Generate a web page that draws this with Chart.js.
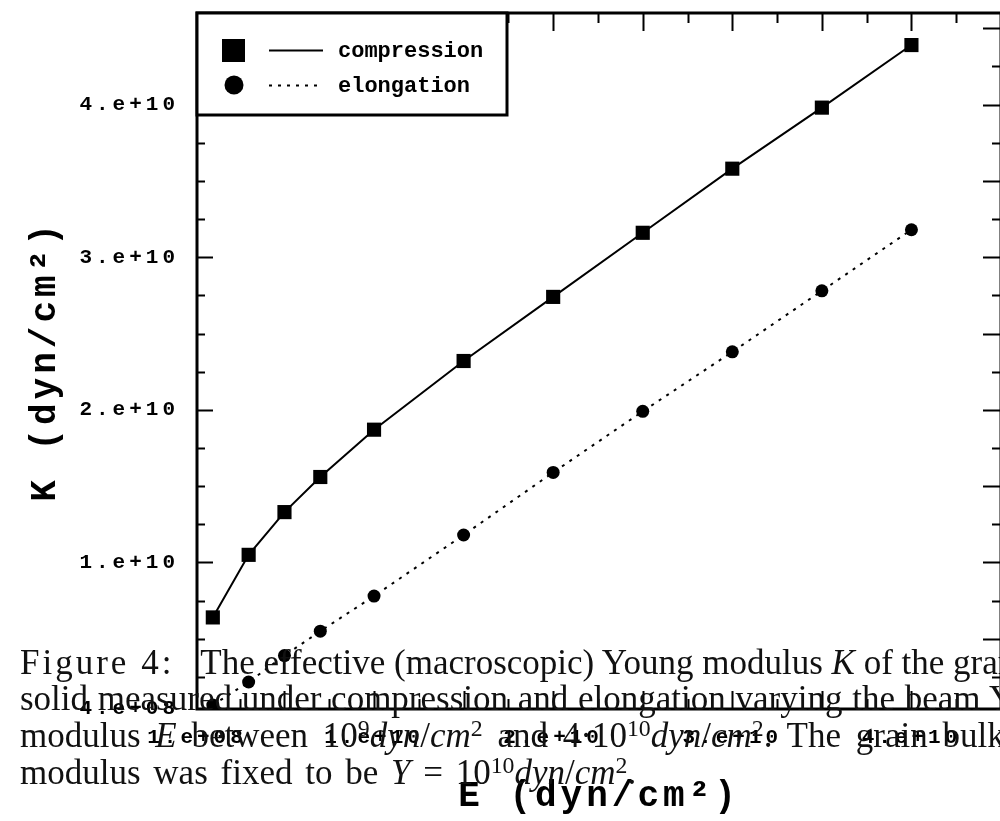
<!DOCTYPE html>
<html>
<head>
<meta charset="utf-8">
<script src="https://cdn.jsdelivr.net/npm/chart.js@4/dist/chart.umd.min.js"></script>
<style>
  html, body { margin: 0; padding: 0; background: #fff; overflow: hidden; }
  #wrap { position: relative; width: 1000px; height: 821px; overflow: hidden; }
  #chart { position: absolute; left: 0; top: 0; }
  #caption { position: absolute; left: 0; top: 0; width: 1000px; height: 821px; pointer-events: none;
             font-family: "Liberation Serif", serif; font-size: 35px; color: #111; }
  #caption div { position: absolute; left: 20px; white-space: nowrap; line-height: 33px; }
  #caption sup { font-size: 0.68em; vertical-align: 0.45em; line-height: 0; }
  .fig { letter-spacing: 3px; }
  .gap { display: inline-block; width: 26px; }
</style>
</head>
<body>
<div id="wrap">
  <canvas id="chart" width="1011" height="821"></canvas>
  <div id="caption">
    <div style="top:646px"><span class="fig">Figure 4:</span><span class="gap"></span>The effective (macroscopic) Young modulus <i>K</i> of the granular</div>
    <div style="top:682px; word-spacing:1px">solid measured under compression and elongation varying the beam Young</div>
    <div style="top:719px; word-spacing:6px">modulus <i>E</i> between 10<sup>9</sup><i>dyn</i>/<i>cm</i><sup>2</sup> and 4·10<sup>10</sup><i>dyn</i>/<i>cm</i><sup>2</sup>. The grain bulk Young</div>
    <div style="top:756px; word-spacing:4px">modulus was fixed to be <i>Y</i> = 10<sup>10</sup><i>dyn</i>/<i>cm</i><sup>2</sup>.</div>
  </div>
</div>
<script>
// beam Young modulus E (dyn/cm^2)
const eValues = [1e9, 3e9, 5e9, 7e9, 1e10, 1.5e10, 2e10, 2.5e10, 3e10, 3.5e10, 4e10];
// effective modulus K (dyn/cm^2)
const compressionK = [6.4e9, 1.05e10, 1.33e10, 1.56e10, 1.87e10, 2.32e10, 2.74e10, 3.16e10, 3.58e10, 3.98e10, 4.39e10];
const elongationK = [6.6e8, 2.17e9, 3.9e9, 5.5e9, 7.8e9, 1.18e10, 1.59e10, 1.99e10, 2.38e10, 2.78e10, 3.18e10];
const seriesNames = ["compression", "elongation"];
const xRange = [1.17e8, 4.5e10];
const yRange = [4e8, 4.6e10];
const tickStep = 2.5e9;

function expLabel(v) {
    let exp = Math.floor(Math.log10(v) + 1e-9);
    let m = Math.round(v / Math.pow(10, exp));
    return m + ".e+" + String(exp).padStart(2, "0");
}

function isMultiple(v, step) {
    let r = v / step;
    return Math.abs(r - Math.round(r)) < 1e-6;
}

function labelFor(scaleMin, scaleMax) {
    return function (value) {
        if (Math.abs(value - scaleMin) < 1) return expLabel(value);
        if (Math.abs(value - scaleMax) < 1) return "";
        return isMultiple(value, 1e10) ? expLabel(value) : "";
    };
}

// ticks at the range ends plus every step in between
function stepTicks(scale) {
    let out = [{ value: scale.min }];
    for (let v = Math.ceil(scale.min / tickStep) * tickStep; v < scale.max - 1; v += tickStep) {
        if (v > scale.min + 1) out.push({ value: v });
    }
    out.push({ value: scale.max });
    scale.ticks = out;
}

// frame, inward ticks and boxed legend (like the old plotting program)
const framePlugin = {
    id: "framePlugin",
    beforeDraw(chart) {
        chart.ctx.letterSpacing = "4px";
    },
    afterDraw(chart) {
        let ctx = chart.ctx;
        let a = chart.chartArea;
        let xs = chart.scales.x, ys = chart.scales.y;
        ctx.save();
        ctx.letterSpacing = "0px";
        ctx.strokeStyle = "#000";
        ctx.lineWidth = 2;

        xs.ticks.forEach(t => {
            if (t.value <= xs.min || t.value >= xs.max) return;
            let px = Math.round(xs.getPixelForValue(t.value)) + 0.5;
            let len = isMultiple(t.value, 5e9) ? 18 : 10;
            ctx.beginPath();
            ctx.moveTo(px, a.bottom); ctx.lineTo(px, a.bottom - len);
            ctx.moveTo(px, a.top); ctx.lineTo(px, a.top + len);
            ctx.stroke();
        });
        ys.ticks.forEach(t => {
            if (t.value <= ys.min || t.value >= ys.max) return;
            let py = Math.round(ys.getPixelForValue(t.value)) + 0.5;
            let lenL = isMultiple(t.value, 1e10) ? 16 : 8;
            let lenR = isMultiple(t.value, 5e9) ? 18 : 9;
            ctx.beginPath();
            ctx.moveTo(a.left, py); ctx.lineTo(a.left + lenL, py);
            ctx.moveTo(a.right, py); ctx.lineTo(a.right - lenR, py);
            ctx.stroke();
        });

        ctx.lineWidth = 3;
        ctx.strokeRect(a.left, a.top, a.right - a.left, a.bottom - a.top);

        // legend box
        let bx = a.left, by = a.top, bw = 310, bh = 102;
        ctx.fillStyle = "#fff";
        ctx.fillRect(bx, by, bw, bh);
        ctx.lineWidth = 3;
        ctx.strokeRect(bx, by, bw, bh);

        chart.data.datasets.forEach((ds, i) => {
            let y = by + 37 + i * 35;
            ctx.fillStyle = "#000";
            if (ds.pointStyle === "rect") {
                ctx.fillRect(bx + 25, y - 11, 23, 23);
            } else {
                ctx.beginPath();
                ctx.arc(bx + 37, y, 9.5, 0, Math.PI * 2);
                ctx.fill();
            }
            ctx.lineWidth = 2;
            ctx.setLineDash(ds.borderDash || []);
            ctx.beginPath();
            ctx.moveTo(bx + 72, y + 0.5); ctx.lineTo(bx + 126, y + 0.5);
            ctx.stroke();
            ctx.setLineDash([]);
            ctx.font = "bold 22px 'Liberation Mono'";
            ctx.textBaseline = "middle";
            ctx.textAlign = "left";
            ctx.fillText(ds.label, bx + 141, y + 1);
        });
        ctx.restore();
    }
};

let tickFont = { family: "'Liberation Mono'", size: 21, weight: "bold" };
let titleFont = { family: "'Liberation Mono'", size: 36, weight: "bold" };

new Chart(document.getElementById("chart"), {
    type: "line",
    data: {
        datasets: [
            {
                label: seriesNames[0],
                data: eValues.map((e, i) => ({ x: e, y: compressionK[i] })),
                borderColor: "#000",
                backgroundColor: "#000",
                borderWidth: 2,
                pointStyle: "rect",
                pointRadius: 10,
                pointBorderWidth: 0,
                tension: 0
            },
            {
                label: seriesNames[1],
                data: eValues.map((e, i) => ({ x: e, y: elongationK[i] })),
                borderColor: "#000",
                backgroundColor: "#000",
                borderWidth: 2,
                borderDash: [3, 6],
                pointStyle: "circle",
                pointRadius: 6.5,
                pointBorderWidth: 0,
                tension: 0
            }
        ]
    },
    options: {
        responsive: false,
        animation: false,
        layout: { padding: { top: 13, right: 0, bottom: 0, left: 0 } },
        plugins: { legend: { display: false }, tooltip: { enabled: false } },
        scales: {
            x: {
                type: "linear",
                min: xRange[0],
                max: xRange[1],
                grid: { display: false, drawTicks: false },
                border: { display: false },
                afterBuildTicks: stepTicks,
                ticks: {
                    autoSkip: false,
                    maxRotation: 0,
                    minRotation: 0,
                    padding: 16,
                    color: "#000",
                    font: tickFont,
                    callback: labelFor(xRange[0], xRange[1])
                },
                title: {
                    display: true,
                    text: "E (dyn/cm²)",
                    color: "#000",
                    font: titleFont,
                    padding: { top: 0, bottom: 2 }
                },
                afterFit(scale) {
                    scale.height = 112;
                    scale.paddingLeft = 0;
                    scale.paddingRight = 0;
                }
            },
            y: {
                type: "linear",
                min: yRange[0],
                max: yRange[1],
                grid: { display: false, drawTicks: false },
                border: { display: false },
                afterBuildTicks: stepTicks,
                ticks: {
                    autoSkip: false,
                    padding: 18,
                    color: "#000",
                    font: tickFont,
                    callback: labelFor(yRange[0], yRange[1])
                },
                title: {
                    display: true,
                    text: "K (dyn/cm²)",
                    color: "#000",
                    font: titleFont,
                    padding: { top: 24, bottom: 0 }
                },
                afterFit(scale) {
                    scale.width = 197;
                    scale.paddingTop = 0;
                    scale.paddingBottom = 0;
                }
            }
        }
    },
    plugins: [framePlugin]
});
</script>
</body>
</html>
